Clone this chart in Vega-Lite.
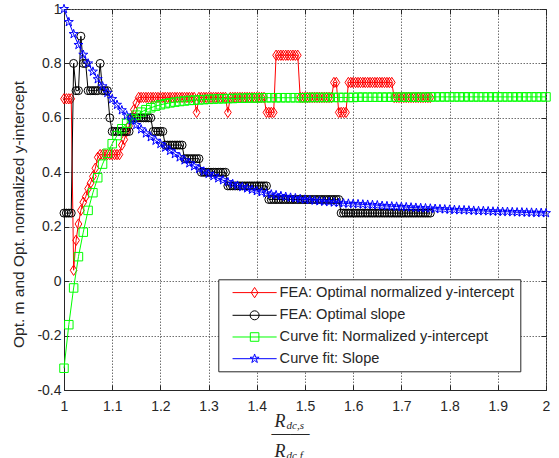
{
"$schema":"https://vega.github.io/schema/vega-lite/v6.json",
"width":482,"height":381,
"autosize":"none",
"padding":{"left":64,"top":9,"right":13,"bottom":68},
"background":"white",
"config":{
 "view":{"stroke":"#262626","strokeWidth":1},
 "axis":{"labelFont":"Liberation Sans","labelFontSize":14,"labelColor":"#262626","titleFont":"Liberation Sans","titleColor":"#262626","titleFontWeight":"normal","gridColor":"#707070","gridDash":[1.5,1.5],"gridOpacity":1,"gridWidth":1,"domainColor":"#262626","tickColor":"#262626","tickWidth":1}
},
"datasets":{
"r":[{"x":1,"y":0.67},{"x":1.005,"y":0.67},{"x":1.01,"y":0.67},{"x":1.015,"y":0.67},{"x":1.02,"y":0.04},{"x":1.025,"y":0.15},{"x":1.03,"y":0.21},{"x":1.035,"y":0.26},{"x":1.04,"y":0.29},{"x":1.045,"y":0.31},{"x":1.05,"y":0.34},{"x":1.055,"y":0.36},{"x":1.06,"y":0.385},{"x":1.065,"y":0.415},{"x":1.07,"y":0.455},{"x":1.075,"y":0.465},{"x":1.08,"y":0.465},{"x":1.085,"y":0.465},{"x":1.09,"y":0.465},{"x":1.095,"y":0.465},{"x":1.1,"y":0.465},{"x":1.105,"y":0.465},{"x":1.11,"y":0.465},{"x":1.115,"y":0.465},{"x":1.12,"y":0.5},{"x":1.125,"y":0.52},{"x":1.13,"y":0.55},{"x":1.135,"y":0.57},{"x":1.14,"y":0.6},{"x":1.145,"y":0.63},{"x":1.15,"y":0.655},
{"x":1.155,"y":0.675},{"x":1.16,"y":0.675},{"x":1.165,"y":0.675},{"x":1.17,"y":0.675},{"x":1.175,"y":0.675},{"x":1.18,"y":0.675},{"x":1.185,"y":0.675},{"x":1.19,"y":0.675},{"x":1.195,"y":0.675},{"x":1.2,"y":0.675},{"x":1.205,"y":0.675},{"x":1.21,"y":0.675},{"x":1.215,"y":0.675},{"x":1.22,"y":0.675},{"x":1.225,"y":0.675},{"x":1.23,"y":0.675},{"x":1.235,"y":0.675},{"x":1.24,"y":0.675},{"x":1.245,"y":0.675},{"x":1.25,"y":0.675},{"x":1.255,"y":0.675},{"x":1.26,"y":0.675},{"x":1.265,"y":0.675},{"x":1.27,"y":0.675},
{"x":1.275,"y":0.62},
{"x":1.28,"y":0.675},{"x":1.285,"y":0.675},{"x":1.29,"y":0.675},{"x":1.295,"y":0.675},{"x":1.3,"y":0.675},{"x":1.305,"y":0.675},{"x":1.31,"y":0.675},{"x":1.315,"y":0.675},{"x":1.32,"y":0.675},{"x":1.325,"y":0.675},{"x":1.33,"y":0.675},{"x":1.335,"y":0.675},
{"x":1.34,"y":0.62},
{"x":1.345,"y":0.675},{"x":1.35,"y":0.675},{"x":1.355,"y":0.675},{"x":1.36,"y":0.675},{"x":1.365,"y":0.675},{"x":1.37,"y":0.675},{"x":1.375,"y":0.675},{"x":1.38,"y":0.675},{"x":1.385,"y":0.675},{"x":1.39,"y":0.675},{"x":1.395,"y":0.675},{"x":1.4,"y":0.675},{"x":1.405,"y":0.675},{"x":1.41,"y":0.675},{"x":1.415,"y":0.675},
{"x":1.42,"y":0.62},{"x":1.425,"y":0.62},{"x":1.43,"y":0.62},{"x":1.435,"y":0.62},
{"x":1.44,"y":0.83},{"x":1.445,"y":0.83},{"x":1.45,"y":0.83},{"x":1.455,"y":0.83},{"x":1.46,"y":0.83},{"x":1.465,"y":0.83},{"x":1.47,"y":0.83},{"x":1.475,"y":0.83},{"x":1.48,"y":0.83},{"x":1.485,"y":0.83},
{"x":1.49,"y":0.675},{"x":1.495,"y":0.675},{"x":1.5,"y":0.675},{"x":1.505,"y":0.675},{"x":1.51,"y":0.675},{"x":1.515,"y":0.675},{"x":1.52,"y":0.675},{"x":1.525,"y":0.675},{"x":1.53,"y":0.675},{"x":1.535,"y":0.675},{"x":1.54,"y":0.675},{"x":1.545,"y":0.675},{"x":1.55,"y":0.675},{"x":1.555,"y":0.675},
{"x":1.56,"y":0.73},{"x":1.565,"y":0.73},
{"x":1.57,"y":0.62},{"x":1.575,"y":0.62},{"x":1.58,"y":0.62},{"x":1.585,"y":0.62},
{"x":1.59,"y":0.73},{"x":1.595,"y":0.73},{"x":1.6,"y":0.73},{"x":1.605,"y":0.73},{"x":1.61,"y":0.73},{"x":1.615,"y":0.73},{"x":1.62,"y":0.73},{"x":1.625,"y":0.73},{"x":1.63,"y":0.73},{"x":1.635,"y":0.73},{"x":1.64,"y":0.73},{"x":1.645,"y":0.73},{"x":1.65,"y":0.73},{"x":1.655,"y":0.73},{"x":1.66,"y":0.73},{"x":1.665,"y":0.73},{"x":1.67,"y":0.73},{"x":1.675,"y":0.73},{"x":1.68,"y":0.73},
{"x":1.685,"y":0.675},{"x":1.69,"y":0.675},{"x":1.695,"y":0.675},{"x":1.7,"y":0.675},{"x":1.705,"y":0.675},{"x":1.71,"y":0.675},{"x":1.715,"y":0.675},{"x":1.72,"y":0.675},{"x":1.725,"y":0.675},{"x":1.73,"y":0.675},{"x":1.735,"y":0.675},{"x":1.74,"y":0.675},{"x":1.745,"y":0.675},{"x":1.75,"y":0.675},{"x":1.755,"y":0.675},{"x":1.76,"y":0.675}],
"k":[{"x":1,"y":0.25},{"x":1.005,"y":0.25},{"x":1.01,"y":0.25},{"x":1.015,"y":0.25},{"x":1.02,"y":0.8},{"x":1.025,"y":0.7},{"x":1.03,"y":0.7},{"x":1.035,"y":0.9},{"x":1.04,"y":0.8},{"x":1.045,"y":0.8},{"x":1.05,"y":0.7},{"x":1.055,"y":0.7},{"x":1.06,"y":0.7},{"x":1.065,"y":0.7},{"x":1.07,"y":0.7},{"x":1.075,"y":0.8},{"x":1.08,"y":0.7},{"x":1.085,"y":0.7},{"x":1.09,"y":0.7},{"x":1.095,"y":0.6},
{"x":1.1,"y":0.55},{"x":1.105,"y":0.55},{"x":1.11,"y":0.55},{"x":1.115,"y":0.55},{"x":1.12,"y":0.55},{"x":1.125,"y":0.55},{"x":1.13,"y":0.55},{"x":1.135,"y":0.55},
{"x":1.14,"y":0.6},{"x":1.145,"y":0.6},{"x":1.15,"y":0.6},{"x":1.155,"y":0.6},{"x":1.16,"y":0.6},{"x":1.165,"y":0.6},{"x":1.17,"y":0.6},{"x":1.175,"y":0.6},{"x":1.18,"y":0.6},
{"x":1.185,"y":0.55},{"x":1.19,"y":0.55},{"x":1.195,"y":0.55},{"x":1.2,"y":0.55},{"x":1.205,"y":0.55},
{"x":1.21,"y":0.5},{"x":1.215,"y":0.5},{"x":1.22,"y":0.5},{"x":1.225,"y":0.5},{"x":1.23,"y":0.5},{"x":1.235,"y":0.5},{"x":1.24,"y":0.5},{"x":1.245,"y":0.5},
{"x":1.25,"y":0.45},{"x":1.255,"y":0.45},{"x":1.26,"y":0.45},{"x":1.265,"y":0.45},{"x":1.27,"y":0.45},{"x":1.275,"y":0.45},{"x":1.28,"y":0.45},
{"x":1.285,"y":0.4},{"x":1.29,"y":0.4},{"x":1.295,"y":0.4},{"x":1.3,"y":0.4},{"x":1.305,"y":0.4},{"x":1.31,"y":0.4},{"x":1.315,"y":0.4},{"x":1.32,"y":0.4},{"x":1.325,"y":0.4},{"x":1.33,"y":0.4},{"x":1.335,"y":0.4},
{"x":1.34,"y":0.35},{"x":1.345,"y":0.35},{"x":1.35,"y":0.35},{"x":1.355,"y":0.35},{"x":1.36,"y":0.35},{"x":1.365,"y":0.35},{"x":1.37,"y":0.35},{"x":1.375,"y":0.35},{"x":1.38,"y":0.35},{"x":1.385,"y":0.35},{"x":1.39,"y":0.35},{"x":1.395,"y":0.35},{"x":1.4,"y":0.35},{"x":1.405,"y":0.35},{"x":1.41,"y":0.35},{"x":1.415,"y":0.35},{"x":1.42,"y":0.35},
{"x":1.425,"y":0.3},{"x":1.43,"y":0.3},{"x":1.435,"y":0.3},{"x":1.44,"y":0.3},{"x":1.445,"y":0.3},{"x":1.45,"y":0.3},{"x":1.455,"y":0.3},{"x":1.46,"y":0.3},{"x":1.465,"y":0.3},{"x":1.47,"y":0.3},{"x":1.475,"y":0.3},{"x":1.48,"y":0.3},{"x":1.485,"y":0.3},{"x":1.49,"y":0.3},{"x":1.495,"y":0.3},{"x":1.5,"y":0.3},{"x":1.505,"y":0.3},{"x":1.51,"y":0.3},{"x":1.515,"y":0.3},{"x":1.52,"y":0.3},{"x":1.525,"y":0.3},{"x":1.53,"y":0.3},{"x":1.535,"y":0.3},{"x":1.54,"y":0.3},{"x":1.545,"y":0.3},{"x":1.55,"y":0.3},{"x":1.555,"y":0.3},{"x":1.56,"y":0.3},{"x":1.565,"y":0.3},{"x":1.57,"y":0.3},
{"x":1.575,"y":0.25},{"x":1.58,"y":0.25},{"x":1.585,"y":0.25},{"x":1.59,"y":0.25},{"x":1.595,"y":0.25},{"x":1.6,"y":0.25},{"x":1.605,"y":0.25},{"x":1.61,"y":0.25},{"x":1.615,"y":0.25},{"x":1.62,"y":0.25},{"x":1.625,"y":0.25},{"x":1.63,"y":0.25},{"x":1.635,"y":0.25},{"x":1.64,"y":0.25},{"x":1.645,"y":0.25},{"x":1.65,"y":0.25},{"x":1.655,"y":0.25},{"x":1.66,"y":0.25},{"x":1.665,"y":0.25},{"x":1.67,"y":0.25},{"x":1.675,"y":0.25},{"x":1.68,"y":0.25},{"x":1.685,"y":0.25},{"x":1.69,"y":0.25},{"x":1.695,"y":0.25},{"x":1.7,"y":0.25},{"x":1.705,"y":0.25},{"x":1.71,"y":0.25},{"x":1.715,"y":0.25},{"x":1.72,"y":0.25},{"x":1.725,"y":0.25},{"x":1.73,"y":0.25},{"x":1.735,"y":0.25},{"x":1.74,"y":0.25},{"x":1.745,"y":0.25},{"x":1.75,"y":0.25},{"x":1.755,"y":0.25},{"x":1.76,"y":0.25}],
"g":[{"x":1,"y":-0.32},{"x":1.01,"y":-0.16},{"x":1.02,"y":-0.025},{"x":1.03,"y":0.09},{"x":1.04,"y":0.18},{"x":1.05,"y":0.26},{"x":1.06,"y":0.325},{"x":1.07,"y":0.38},{"x":1.08,"y":0.43},{"x":1.09,"y":0.47},{"x":1.1,"y":0.505},{"x":1.11,"y":0.535},{"x":1.12,"y":0.56},{"x":1.13,"y":0.58},{"x":1.14,"y":0.597},{"x":1.15,"y":0.61},{"x":1.16,"y":0.621},{"x":1.17,"y":0.63},{"x":1.18,"y":0.637},{"x":1.19,"y":0.643},{"x":1.2,"y":0.648},{"x":1.21,"y":0.652},{"x":1.22,"y":0.655},{"x":1.23,"y":0.658},{"x":1.24,"y":0.66},{"x":1.25,"y":0.662},{"x":1.26,"y":0.664},{"x":1.27,"y":0.665},{"x":1.28,"y":0.666},{"x":1.29,"y":0.667},{"x":1.3,"y":0.668},{"x":1.31,"y":0.669},{"x":1.32,"y":0.67},{"x":1.33,"y":0.67},{"x":1.34,"y":0.671},{"x":1.35,"y":0.671},{"x":1.36,"y":0.672},{"x":1.37,"y":0.672},{"x":1.38,"y":0.673},{"x":1.39,"y":0.673},{"x":1.4,"y":0.673},{"x":1.41,"y":0.674},{"x":1.42,"y":0.674},{"x":1.43,"y":0.674},{"x":1.44,"y":0.674},{"x":1.45,"y":0.674},{"x":1.46,"y":0.674},{"x":1.47,"y":0.674},{"x":1.48,"y":0.674},{"x":1.49,"y":0.674},{"x":1.5,"y":0.674},{"x":1.51,"y":0.675},{"x":1.52,"y":0.675},{"x":1.53,"y":0.675},{"x":1.54,"y":0.675},{"x":1.55,"y":0.675},{"x":1.56,"y":0.675},{"x":1.57,"y":0.675},{"x":1.58,"y":0.675},{"x":1.59,"y":0.675},{"x":1.6,"y":0.675},{"x":1.61,"y":0.676},{"x":1.62,"y":0.676},{"x":1.63,"y":0.676},{"x":1.64,"y":0.676},{"x":1.65,"y":0.676},{"x":1.66,"y":0.676},{"x":1.67,"y":0.676},{"x":1.68,"y":0.676},{"x":1.69,"y":0.676},{"x":1.7,"y":0.676},{"x":1.71,"y":0.676},{"x":1.72,"y":0.676},{"x":1.73,"y":0.676},{"x":1.74,"y":0.676},{"x":1.75,"y":0.676},{"x":1.76,"y":0.677},{"x":1.77,"y":0.677},{"x":1.78,"y":0.677},{"x":1.79,"y":0.677},{"x":1.8,"y":0.677},{"x":1.81,"y":0.677},{"x":1.82,"y":0.677},{"x":1.83,"y":0.677},{"x":1.84,"y":0.677},{"x":1.85,"y":0.677},{"x":1.86,"y":0.677},{"x":1.87,"y":0.677},{"x":1.88,"y":0.677},{"x":1.89,"y":0.677},{"x":1.9,"y":0.677},{"x":1.91,"y":0.677},{"x":1.92,"y":0.677},{"x":1.93,"y":0.677},{"x":1.94,"y":0.677},{"x":1.95,"y":0.677},{"x":1.96,"y":0.677},{"x":1.97,"y":0.677},{"x":1.98,"y":0.677},{"x":1.99,"y":0.677},{"x":2,"y":0.677}],
"b":[{"x":1,"y":1},{"x":1.01,"y":0.952},{"x":1.02,"y":0.908},{"x":1.03,"y":0.868},{"x":1.04,"y":0.832},{"x":1.05,"y":0.8},{"x":1.06,"y":0.77},{"x":1.07,"y":0.742},{"x":1.08,"y":0.716},{"x":1.09,"y":0.692},{"x":1.1,"y":0.669},{"x":1.11,"y":0.648},{"x":1.12,"y":0.628},{"x":1.13,"y":0.609},{"x":1.14,"y":0.591},{"x":1.15,"y":0.574},{"x":1.16,"y":0.558},{"x":1.17,"y":0.543},{"x":1.18,"y":0.529},{"x":1.19,"y":0.516},{"x":1.2,"y":0.504},{"x":1.21,"y":0.491},{"x":1.22,"y":0.479},{"x":1.23,"y":0.467},{"x":1.24,"y":0.455},{"x":1.25,"y":0.444},{"x":1.26,"y":0.433},{"x":1.27,"y":0.422},{"x":1.28,"y":0.412},{"x":1.29,"y":0.403},{"x":1.3,"y":0.394},{"x":1.31,"y":0.386},{"x":1.32,"y":0.378},{"x":1.33,"y":0.371},{"x":1.34,"y":0.364},{"x":1.35,"y":0.357},{"x":1.36,"y":0.351},{"x":1.37,"y":0.346},{"x":1.38,"y":0.341},{"x":1.39,"y":0.336},{"x":1.4,"y":0.331},{"x":1.41,"y":0.327},{"x":1.42,"y":0.323},{"x":1.43,"y":0.319},{"x":1.44,"y":0.316},{"x":1.45,"y":0.313},{"x":1.46,"y":0.31},{"x":1.47,"y":0.307},{"x":1.48,"y":0.305},{"x":1.49,"y":0.302},{"x":1.5,"y":0.3},{"x":1.51,"y":0.298},{"x":1.52,"y":0.296},{"x":1.53,"y":0.294},{"x":1.54,"y":0.292},{"x":1.55,"y":0.291},{"x":1.56,"y":0.289},{"x":1.57,"y":0.288},{"x":1.58,"y":0.286},{"x":1.59,"y":0.285},{"x":1.6,"y":0.284},{"x":1.61,"y":0.283},{"x":1.62,"y":0.282},{"x":1.63,"y":0.281},{"x":1.64,"y":0.28},{"x":1.65,"y":0.279},{"x":1.66,"y":0.277},{"x":1.67,"y":0.276},{"x":1.68,"y":0.275},{"x":1.69,"y":0.274},{"x":1.7,"y":0.273},{"x":1.71,"y":0.272},{"x":1.72,"y":0.271},{"x":1.73,"y":0.27},{"x":1.74,"y":0.269},{"x":1.75,"y":0.268},{"x":1.76,"y":0.267},{"x":1.77,"y":0.266},{"x":1.78,"y":0.265},{"x":1.79,"y":0.264},{"x":1.8,"y":0.263},{"x":1.81,"y":0.262},{"x":1.82,"y":0.261},{"x":1.83,"y":0.261},{"x":1.84,"y":0.26},{"x":1.85,"y":0.259},{"x":1.86,"y":0.258},{"x":1.87,"y":0.258},{"x":1.88,"y":0.257},{"x":1.89,"y":0.256},{"x":1.9,"y":0.256},{"x":1.91,"y":0.255},{"x":1.92,"y":0.255},{"x":1.93,"y":0.254},{"x":1.94,"y":0.253},{"x":1.95,"y":0.253},{"x":1.96,"y":0.252},{"x":1.97,"y":0.252},{"x":1.98,"y":0.251},{"x":1.99,"y":0.251},{"x":2,"y":0.25}]
},
"layer":[
{"data":{"name":"r"},
 "mark":{"type":"line","strokeWidth":1,"point":{"filled":false,"shape":"M0,-1.15L0.75,0L0,1.15L-0.75,0Z","size":81,"strokeWidth":1}},
 "encoding":{
  "x":{"field":"x","type":"quantitative","scale":{"domain":[1,2],"nice":false,"zero":false},
   "axis":{"orient":"bottom","values":[1,1.1,1.2,1.3,1.4,1.5,1.6,1.7,1.8,1.9,2],"format":"~g","grid":true,"ticks":false,"domain":true,"domainWidth":1,"labelPadding":9,"labelFlush":false,"labelOverlap":false,
    "title":["R","R"],"titleFont":"Liberation Serif","titleFontStyle":"italic","titleFontSize":18,"titleLineHeight":30,"titleX":215.5,"titleY":36,"titleAlign":"center","titleBaseline":"alphabetic"}},
  "y":{"field":"y","type":"quantitative","scale":{"domain":[-0.4,1],"nice":false,"zero":false},
   "axis":{"orient":"left","values":[-0.4,-0.2,0,0.2,0.4,0.6,0.8,1],"format":"~g","labelExpr":"replace(datum.label, '−', '-')","grid":true,"ticks":false,"domain":true,"domainWidth":1,"labelPadding":3,"labelFlush":false,"labelOverlap":false,
    "title":"Opt. m and Opt. normalized y-intercept","titleFontSize":15.5,"titleX":-45.7,"titleY":205,"titleAngle":270,"titleAlign":"center","titleBaseline":"middle"}},
  "color":{"datum":"FEA: Optimal normalized y-intercept","type":"nominal",
   "scale":{"domain":["FEA: Optimal normalized y-intercept","FEA: Optimal slope","Curve fit: Normalized y-intercept","Curve fit: Slope"],"range":["#ff0000","#000000","#00ff00","#0000ff"]},
   "legend":{"title":null,"orient":"none","legendX":154.3,"legendY":270.3,"padding":6,"strokeColor":"#262626","fillColor":"white","labelFont":"Liberation Sans","labelFontSize":14.6,"labelColor":"#262626","symbolSize":81,"symbolOffset":23,"labelOffset":17.7,"rowPadding":6.7,"symbolStrokeWidth":1,"labelLimit":400,"cornerRadius":0,
    "encode":{"symbols":{"update":{"shape":{"signal":"datum.value === 'FEA: Optimal normalized y-intercept' ? 'M-4.9,0H4.9M0,-1.15L0.75,0L0,1.15L-0.75,0Z' : datum.value === 'FEA: Optimal slope' ? 'M-4.9,0H4.9M1,0A1,1,0,1,1,-1,0A1,1,0,1,1,1,0Z' : datum.value === 'Curve fit: Normalized y-intercept' ? 'M-4.9,0H4.9M-0.95,-0.95H0.95V0.95H-0.95Z' : 'M-4.9,0H4.9M0,-1.05L0.236,-0.325L1,-0.325L0.382,0.124L0.618,0.85L0,0.401L-0.618,0.85L-0.382,0.124L-1,-0.325L-0.236,-0.325Z'"},"fill":{"value":"transparent"},"strokeWidth":{"value":1},"opacity":{"value":1}}}}}}
 }},
{"data":{"name":"k"},
 "mark":{"type":"line","strokeWidth":1,"point":{"filled":false,"shape":"circle","size":64,"strokeWidth":1}},
 "encoding":{
  "x":{"field":"x","type":"quantitative","scale":{"domain":[1,2],"nice":false,"zero":false},
   "axis":{"orient":"top","values":[1,1.1,1.2,1.3,1.4,1.5,1.6,1.7,1.8,1.9,2],"grid":false,"domain":false,"labels":false,"ticks":true,"tickSize":-5,"title":null}},
  "y":{"field":"y","type":"quantitative","scale":{"domain":[-0.4,1],"nice":false,"zero":false},
   "axis":{"orient":"right","values":[-0.4,-0.2,0,0.2,0.4,0.6,0.8,1],"grid":false,"domain":false,"labels":false,"ticks":true,"tickSize":-5,"title":null}},
  "color":{"datum":"FEA: Optimal slope","type":"nominal"}
 }},
{"data":{"name":"g"},
 "mark":{"type":"line","strokeWidth":1,"point":{"filled":false,"shape":"square","size":72,"strokeWidth":1}},
 "encoding":{
  "x":{"field":"x","type":"quantitative","scale":{"domain":[1,2],"nice":false,"zero":false},
   "axis":{"orient":"bottom","values":[1,1.1,1.2,1.3,1.4,1.5,1.6,1.7,1.8,1.9,2],"grid":false,"domain":false,"labels":false,"ticks":true,"tickSize":-5,
    "title":["dc,s","dc,f"],"titleFont":"Liberation Serif","titleFontStyle":"italic","titleFontSize":11,"titleLineHeight":30,"titleX":222,"titleY":38,"titleAlign":"left","titleBaseline":"alphabetic"}},
  "y":{"field":"y","type":"quantitative","scale":{"domain":[-0.4,1],"nice":false,"zero":false},
   "axis":{"orient":"left","values":[-0.4,-0.2,0,0.2,0.4,0.6,0.8,1],"grid":false,"domain":false,"labels":false,"ticks":true,"tickSize":-5,"title":null}},
  "color":{"datum":"Curve fit: Normalized y-intercept","type":"nominal"}
 }},
{"data":{"name":"b"},
 "mark":{"type":"line","strokeWidth":1,"point":{"filled":false,"shape":"M0,-1.05L0.236,-0.325L1,-0.325L0.382,0.124L0.618,0.85L0,0.401L-0.618,0.85L-0.382,0.124L-1,-0.325L-0.236,-0.325Z","size":81,"strokeWidth":1}},
 "encoding":{
  "x":{"field":"x","type":"quantitative","scale":{"domain":[1,2],"nice":false,"zero":false},
   "axis":{"orient":"bottom","grid":false,"domain":false,"labels":false,"ticks":false,
    "title":"——","titleFont":"Liberation Serif","titleFontSize":19,"titleFontStyle":"normal","titleX":226,"titleY":48.3,"titleAlign":"center","titleBaseline":"alphabetic"}},
  "y":{"field":"y","type":"quantitative","scale":{"domain":[-0.4,1],"nice":false,"zero":false},"axis":null},
  "color":{"datum":"Curve fit: Slope","type":"nominal"}
 }}
],
"resolve":{"axis":{"x":"independent","y":"independent"}}
}
